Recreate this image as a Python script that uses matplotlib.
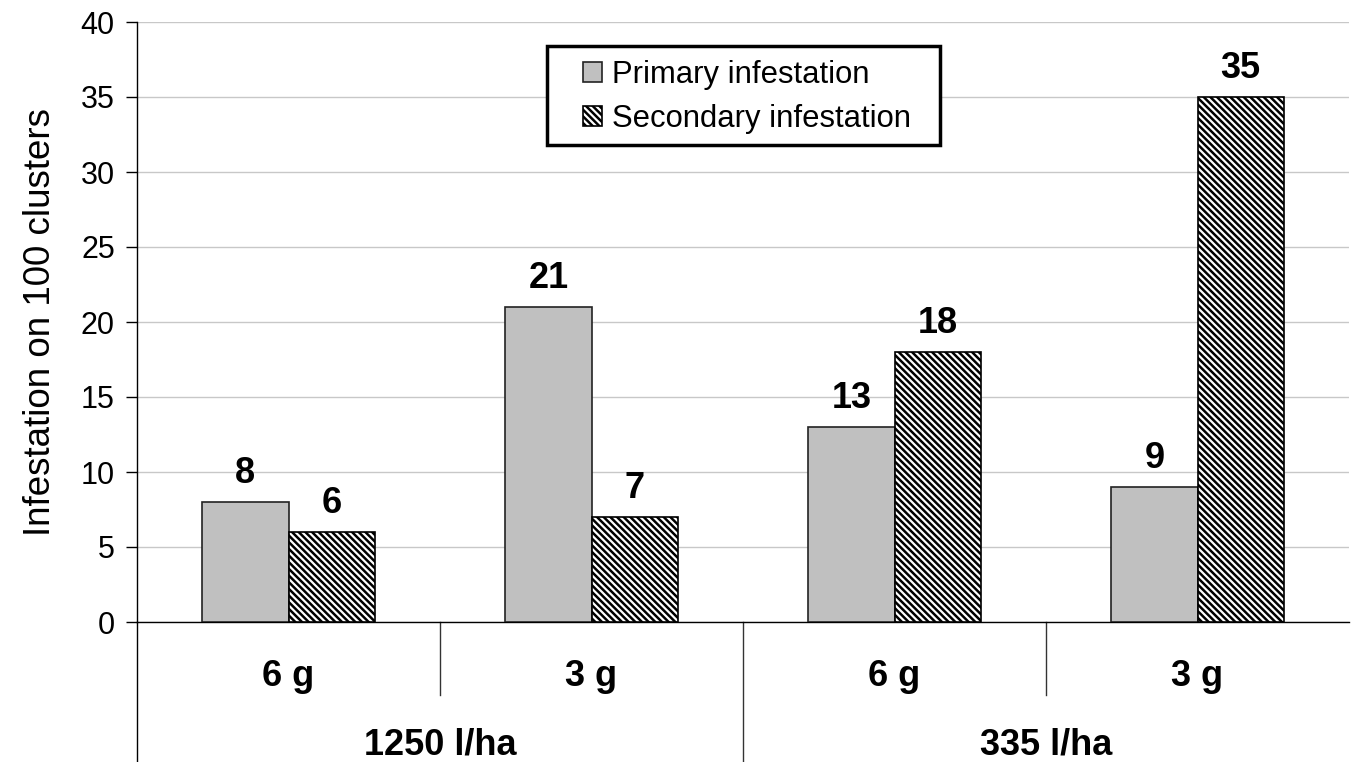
import matplotlib
matplotlib.use("Agg")
import matplotlib.pyplot as plt
from matplotlib.patches import Rectangle
import numpy as np

plt.rcParams['font.family'] = ['Liberation Sans', 'DejaVu Sans']
plt.rcParams['hatch.linewidth'] = 1.8
plt.rcParams['hatch.color'] = 'black'

doses = ["6 g", "3 g", "6 g", "3 g"]
volumes = ["1250 l/ha", "335 l/ha"]
primary = [8, 21, 13, 9]
secondary = [6, 7, 18, 35]
series_names = ["Primary infestation", "Secondary infestation"]

W, H = 1351, 762
fig = plt.figure(figsize=(W/100, H/100), dpi=100)
ax = fig.add_axes([137/W, 1-622/H, 1212/W, 600/H])

x = np.arange(len(doses))
w = 0.285
b1 = ax.bar(x - w/2, primary, w, color="#c0c0c0", edgecolor="#222222", linewidth=1.2,
            label=series_names[0], zorder=3)
b2 = ax.bar(x + w/2, secondary, w, color="white", edgecolor="black", linewidth=1.2,
            hatch="\\" * 5, label=series_names[1], zorder=3)

for bars in (b1, b2):
    for r in bars:
        ax.text(r.get_x() + r.get_width()/2, r.get_height() + 0.75, f"{int(r.get_height())}",
                ha="center", va="bottom", fontsize=26, fontweight="bold")

ax.set_xlim(-0.5, len(doses) - 0.5)
ax.set_ylim(0, 40)
ax.set_yticks(np.arange(0, 41, 5))
ax.tick_params(axis="y", labelsize=22, length=8, width=1, direction="out", pad=8)
ax.set_xticks([])
ax.yaxis.grid(True, color="#c8c8c8", linewidth=1)
ax.set_axisbelow(True)
for s in ["top", "right"]:
    ax.spines[s].set_visible(False)
ax.spines["left"].set_linewidth(1)
ax.spines["bottom"].set_linewidth(1)
ax.set_ylabel("Infestation on 100 clusters", fontsize=26.5, labelpad=16)

# multi-level category axis
trans = ax.get_xaxis_transform()
ax.plot([-0.5, -0.5], [0, -140/600], transform=trans, color="black", lw=1, clip_on=False)
for i, d in enumerate(doses):
    ax.text(i, -55/600, d, transform=trans, ha="center", va="center", fontsize=26,
            fontweight="bold")
for i in [0.5, 2.5]:
    ax.plot([i, i], [0, -73/600], transform=trans, color="#333333", lw=1, clip_on=False)
ax.plot([1.5, 1.5], [0, -140/600], transform=trans, color="#333333", lw=1, clip_on=False)
for j, v in enumerate(volumes):
    ax.text(2*j + 0.5, -123/600, v, transform=trans, ha="center", va="center", fontsize=26,
            fontweight="bold")

# legend: box drawn separately to reproduce the wide right padding
def ax_frac(px, py):
    return ((px - 137) / 1212, (622 - py) / 600)

bx0, by0 = ax_frac(547, 145)
bx1, by1 = ax_frac(940, 46)
ax.add_patch(Rectangle((bx0, by0), bx1 - bx0, by1 - by0, transform=ax.transAxes,
                       facecolor="white", edgecolor="black", linewidth=2.5,
                       zorder=5, clip_on=False))
lx, ly = ax_frac(583, 60)
leg = ax.legend(loc="upper left", bbox_to_anchor=(lx, ly), fontsize=22.3, frameon=False,
                handlelength=0.6, handleheight=0.6, handletextpad=0.35,
                borderpad=0, labelspacing=0.45, borderaxespad=0)
leg.set_zorder(6)

fig.savefig("out.png", dpi=100)
